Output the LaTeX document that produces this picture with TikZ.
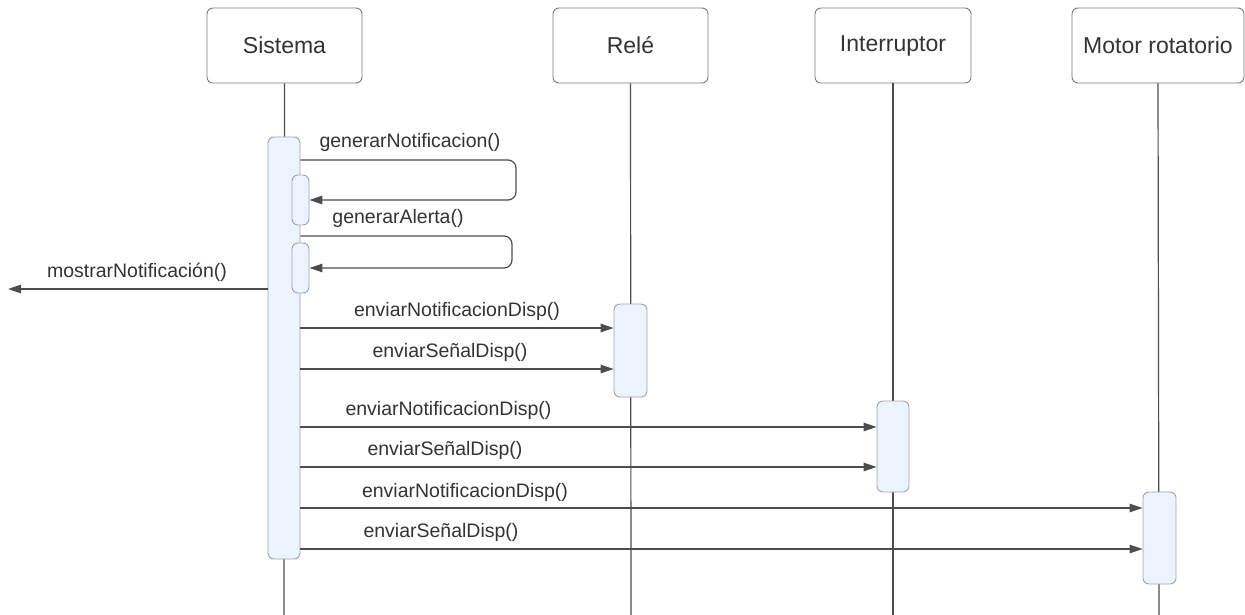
\documentclass[tikz,border=0pt]{standalone}
\usepackage{fontspec}
\setmainfont{Liberation Sans}
\usetikzlibrary{arrows.meta}
\definecolor{seqline}{HTML}{4D4D4D}
\definecolor{seqbox}{HTML}{7A7A7A}
\definecolor{seqtext}{HTML}{333333}
\definecolor{actfill}{HTML}{EBF4FF}
\definecolor{actdraw}{HTML}{A0A4AA}
\begin{document}
\begin{tikzpicture}[x=1pt,y=-1pt,
 head/.style={draw=seqbox,line width=0.9pt,rounded corners=6pt,minimum height=75pt,
  inner sep=0pt,text=seqtext,font=\fontsize{23}{27}\selectfont},
 act/.style={draw=actdraw,fill=actfill,line width=0.9pt,rounded corners=6pt,inner sep=0pt},
 life/.style={draw=seqline,line width=1.2pt},
 msg/.style={draw=seqline,line width=1.2pt,-{Triangle[length=13pt,width=8.5pt]}},
 lbl/.style={text=seqtext,inner sep=0pt,font=\fontsize{19.5}{23}\selectfont}]
\useasboundingbox (0,0) rectangle (1245,615);
% participants and lifelines
\node[head,minimum width=155pt] (sis) at (284.5,45.5) {Sistema};
\node[head,minimum width=155pt] (rel) at (630.5,45.5) {Relé};
\node[head,minimum width=156pt] (int) at (893,45.5) {Interruptor};
\node[head,minimum width=172pt] (mot) at (1158,45.5) {Motor rotatorio};
\coordinate (sisEnd) at (284,615);
\coordinate (relEnd) at (631,615);
\coordinate (intEnd) at (893,615);
\coordinate (motEnd) at (1159,615);
\draw[life] (sis.south) -- (sisEnd);
\draw[life] (rel.south) -- (relEnd);
\draw[life] (int.south) -- (intEnd);
\draw[life] (mot.south) -- (motEnd);
% activations
\node[act,minimum width=32pt,minimum height=422pt] (actSis) at (284,348) {};
\node[act,minimum width=17pt,minimum height=50pt] (actNot) at (300.5,200) {};
\node[act,minimum width=17pt,minimum height=50pt] (actAle) at (300.5,268) {};
\node[act,minimum width=33pt,minimum height=93pt] (actRel) at (630.5,350.5) {};
\node[act,minimum width=32pt,minimum height=91pt] (actInt) at (893,446.5) {};
\node[act,minimum width=33pt,minimum height=92pt] (actMot) at (1159.5,538) {};
% self messages
\draw[msg,rounded corners=8pt] (actSis.east |- 0,160) -- (516,160) -- (516,200)
 -- (actNot.east |- 0,200);
\node[lbl] (mGenNot) at (410,142) {generarNotificacion()};
\draw[msg,rounded corners=8pt] (actSis.east |- 0,236) -- (512,236) -- (512,268)
 -- (actAle.east |- 0,268);
\node[lbl] (mGenAle) at (398,218) {generarAlerta()};
% outgoing message
\coordinate (outside) at (8,289);
\draw[msg] (actSis.west |- outside) -- (outside);
\node[lbl] (mMostrar) at (137,272) {mostrarNotificación()};
% messages to the devices
\draw[msg] (actSis.east |- 0,328) -- (actRel.west |- 0,328);
\node[lbl] (mRelNot) at (457,311) {enviarNotificacionDisp()};
\draw[msg] (actSis.east |- 0,369) -- (actRel.west |- 0,369);
\node[lbl] (mRelSen) at (450,352) {enviarSeñalDisp()};
\draw[msg] (actSis.east |- 0,427) -- (actInt.west |- 0,427);
\node[lbl] (mIntNot) at (448.5,410) {enviarNotificacionDisp()};
\draw[msg] (actSis.east |- 0,467) -- (actInt.west |- 0,467);
\node[lbl] (mIntSen) at (445,450) {enviarSeñalDisp()};
\draw[msg] (actSis.east |- 0,508) -- (actMot.west |- 0,508);
\node[lbl] (mMotNot) at (465,492) {enviarNotificacionDisp()};
\draw[msg] (actSis.east |- 0,549) -- (actMot.west |- 0,549);
\node[lbl] (mMotSen) at (441,532) {enviarSeñalDisp()};
\end{tikzpicture}
\end{document}
